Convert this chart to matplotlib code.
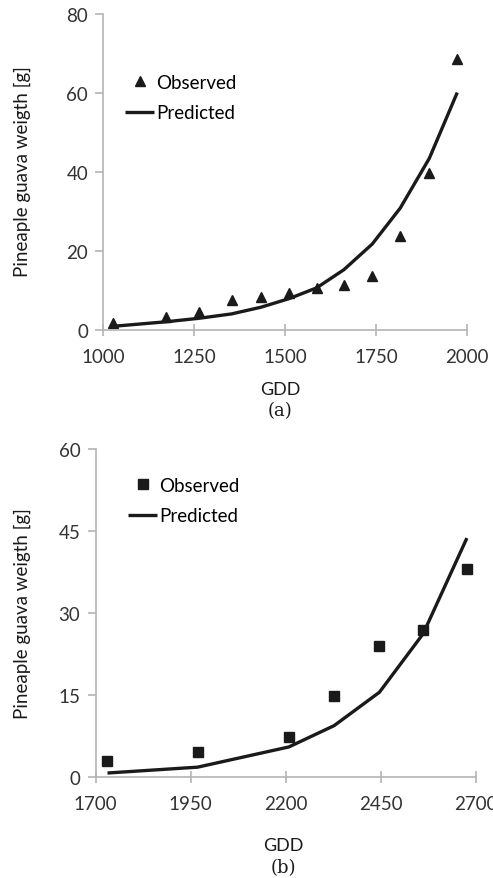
import matplotlib
matplotlib.use('Agg')
import matplotlib.pyplot as plt

# panel (a)
gdd_a = [1026, 1172, 1264, 1353, 1434, 1512, 1587, 1662, 1740, 1817, 1897, 1974]
obs_a = [1.7, 3.1, 4.6, 7.5, 8.4, 9.4, 10.5, 11.4, 13.7, 23.7, 39.8, 68.6]
pred_a = [0.85, 2.0, 2.9, 4.0, 5.7, 7.9, 10.6, 15.2, 21.7, 30.8, 43.4, 60.1]
xticks_a = [1000, 1250, 1500, 1750, 2000]
yticks_a = [0, 20, 40, 60, 80]

# panel (b)
gdd_b = [1731, 1968, 2208, 2327, 2446, 2561, 2676]
obs_b = [3.0, 4.5, 7.4, 14.9, 24.0, 26.9, 38.1]
pred_b = [0.73, 1.8, 5.5, 9.4, 15.5, 26.2, 43.7]
xticks_b = [1700, 1950, 2200, 2450, 2700]
yticks_b = [0, 15, 30, 45, 60]

plt.rcParams['font.family'] = ['Lato', 'DejaVu Sans']
axis_col = '#b4b4b4'
text_col = '#333333'
ink = '#1a1a1a'

W, H = 493, 879
fig = plt.figure(figsize=(W / 100, H / 100), dpi=100)


def style(ax, xt, yt):
    for s in ['top', 'right']:
        ax.spines[s].set_visible(False)
    for s in ['left', 'bottom']:
        ax.spines[s].set_color(axis_col)
        ax.spines[s].set_linewidth(1.2)
    ax.set_xticks(xt)
    ax.set_yticks(yt)
    ax.set_xlim(xt[0], xt[-1])
    ax.set_ylim(yt[0], yt[-1])
    ax.tick_params(axis='x', direction='inout', length=8, width=1.2, color=axis_col,
                   labelsize=13.5, labelcolor=text_col, pad=9)
    ax.tick_params(axis='y', direction='out', length=6, width=1.2, color=axis_col,
                   labelsize=13.5, labelcolor=text_col, pad=5)
    for lab in ax.get_xticklabels() + ax.get_yticklabels():
        lab.set_clip_on(False)


ax1 = fig.add_axes([103.3 / W, 1 - 330.7 / H, 363.4 / W, 315.7 / H])
ax1.plot(gdd_a, obs_a, linestyle='none', marker='^', color=ink, markersize=7.5,
         label='Observed', clip_on=False)
ax1.plot(gdd_a, pred_a, color=ink, linewidth=2.4, label='Predicted', clip_on=False,
         solid_joinstyle='round', solid_capstyle='butt')
style(ax1, xticks_a, yticks_a)
ax1.legend(loc='upper left', bbox_to_anchor=(0.06, 0.81), frameon=False, fontsize=13.5,
           handlelength=1.55, handletextpad=0.1, labelspacing=0.72, borderaxespad=0,
           borderpad=0)
fig.text(22 / W, 1 - 172 / H, 'Pineaple guava weigth [g]', rotation=90, ha='center',
         va='center', fontsize=13.5, color=ink)
fig.text(280 / W, 1 - 390 / H, 'GDD', ha='center', va='center', fontsize=13, color=ink)
fig.text(280 / W, 1 - 411 / H, '(a)', ha='center', va='center', fontsize=13,
         family=['DejaVu Serif'], color=ink)

ax2 = fig.add_axes([95.7 / W, 1 - 778 / H, 380.3 / W, 328 / H])
ax2.plot(gdd_b, obs_b, linestyle='none', marker='s', color=ink, markersize=6.5,
         label='Observed', clip_on=False)
ax2.plot(gdd_b, pred_b, color=ink, linewidth=2.4, label='Predicted', clip_on=False,
         solid_joinstyle='round', solid_capstyle='butt')
style(ax2, xticks_b, yticks_b)
ax2.legend(loc='upper left', bbox_to_anchor=(0.085, 0.915), frameon=False, fontsize=13.5,
           handlelength=1.55, handletextpad=0.1, labelspacing=0.72, borderaxespad=0,
           borderpad=0)
fig.text(22 / W, 1 - 614 / H, 'Pineaple guava weigth [g]', rotation=90, ha='center',
         va='center', fontsize=13.5, color=ink)
fig.text(283 / W, 1 - 846 / H, 'GDD', ha='center', va='center', fontsize=13, color=ink)
fig.text(283 / W, 1 - 868 / H, '(b)', ha='center', va='center', fontsize=13,
         family=['DejaVu Serif'], color=ink)

fig.savefig('out.png', dpi=100)
